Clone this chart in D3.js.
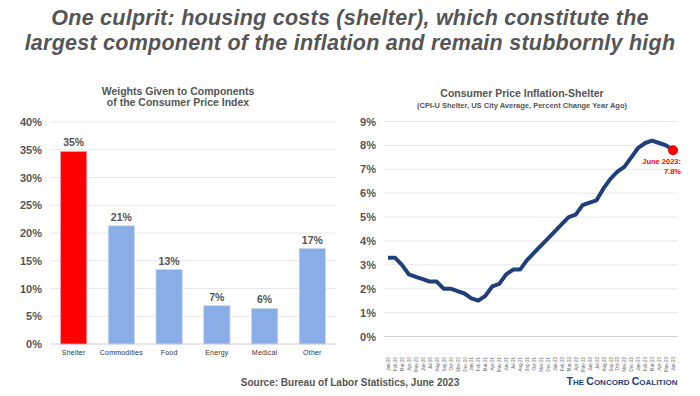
<!DOCTYPE html>
<html>
<head>
<meta charset="utf-8">
<script src="https://cdn.jsdelivr.net/npm/d3@7"></script>
<style>
  body { margin: 0; background: #fff; }
  text { font-family: "Liberation Sans", Arial, sans-serif; }
</style>
</head>
<body>
<div id="viz"></div>
<script>
// left chart: CPI weights
var categories = ['Shelter', 'Commodities', 'Food', 'Energy', 'Medical', 'Other'];
var weights = [34.7, 21.3, 13.4, 6.9, 6.4, 17.2];
var weightLabels = ['35%', '21%', '13%', '7%', '6%', '17%'];
var weightTicks = [0, 5, 10, 15, 20, 25, 30, 35, 40];

// right chart: shelter CPI, % change year ago, Jan-20 .. Jun-23
var months = ['Jan-20','Feb-20','Mar-20','Apr-20','May-20','Jun-20','Jul-20','Aug-20','Sep-20','Oct-20','Nov-20','Dec-20',
  'Jan-21','Feb-21','Mar-21','Apr-21','May-21','Jun-21','Jul-21','Aug-21','Sep-21','Oct-21','Nov-21','Dec-21',
  'Jan-22','Feb-22','Mar-22','Apr-22','May-22','Jun-22','Jul-22','Aug-22','Sep-22','Oct-22','Nov-22','Dec-22',
  'Jan-23','Feb-23','Mar-23','Apr-23','May-23','Jun-23'];
var shelter = [3.3, 3.3, 3.0, 2.6, 2.5, 2.4, 2.3, 2.3, 2.0, 2.0, 1.9, 1.8,
  1.6, 1.5, 1.7, 2.1, 2.2, 2.6, 2.8, 2.8, 3.2, 3.5, 3.8, 4.1,
  4.4, 4.7, 5.0, 5.1, 5.5, 5.6, 5.7, 6.2, 6.6, 6.9, 7.1, 7.5,
  7.9, 8.1, 8.2, 8.1, 8.0, 7.8];
var shelterTicks = [0, 1, 2, 3, 4, 5, 6, 7, 8, 9];

var width = 700,
    height = 396;

var svg = d3.select('#viz').append('svg')
  .attr('width', width)
  .attr('height', height)

// main title
svg.append('text')
  .attr('x', 350).attr('y', 25)
  .attr('text-anchor', 'middle')
  .attr('font-size', 21.5).attr('font-weight', 'bold').attr('font-style', 'italic')
  .attr('letter-spacing', 0.25)
  .attr('fill', '#555')
  .text('One culprit: housing costs (shelter), which constitute the')
svg.append('text')
  .attr('x', 350).attr('y', 50)
  .attr('text-anchor', 'middle')
  .attr('font-size', 21.5).attr('font-weight', 'bold').attr('font-style', 'italic')
  .attr('letter-spacing', 0.25)
  .attr('fill', '#555')
  .text('largest component of the inflation and remain stubbornly high')

// ---------- left: bar chart ----------
var x = d3.scaleBand()
  .domain(categories)
  .range([50, 336])
  .paddingInner(0.45)
  .paddingOuter(0.22)

var y = d3.scaleLinear()
  .domain([0, 40])
  .range([344, 122])

var gL = svg.append('g')

gL.selectAll('.grid')
  .data(weightTicks)
  .enter().append('line')
  .attr('x1', 50).attr('x2', 336)
  .attr('y1', function(d){ return y(d) }).attr('y2', function(d){ return y(d) })
  .attr('stroke', function(d){ return d == 0 ? '#d0d0d0' : '#e8e8e8' })
  .attr('stroke-width', 1)

var yAxisL = d3.axisLeft(y).tickValues(weightTicks).tickSize(0).tickPadding(0)
  .tickFormat(function(d){ return d + '%' })
gL.append('g')
  .attr('transform', 'translate(42,0)')
  .call(yAxisL)
  .call(function(g){ g.select('.domain').remove() })
  .selectAll('text')
  .attr('font-size', 11).attr('font-weight', 'bold').attr('fill', '#555')
  .attr('font-family', '"Liberation Sans", Arial, sans-serif')

gL.selectAll('.bar')
  .data(weights)
  .enter().append('rect')
  .attr('x', function(d, i){ return x(categories[i]) })
  .attr('y', function(d){ return y(d) })
  .attr('width', x.bandwidth())
  .attr('height', function(d){ return y(0) - y(d) })
  .attr('fill', function(d, i){ return i == 0 ? '#ff0000' : '#89ade6' })
  .attr('stroke', function(d, i){ return i == 0 ? '#f4a0b0' : '#c7d6f3' })
  .attr('stroke-width', 0.8)

gL.selectAll('.barLabel')
  .data(weights)
  .enter().append('text')
  .attr('x', function(d, i){ return x(categories[i]) + x.bandwidth()/2 })
  .attr('y', function(d){ return y(d) - 5 })
  .attr('text-anchor', 'middle')
  .attr('font-size', 10.5).attr('font-weight', 'bold').attr('fill', '#555')
  .text(function(d, i){ return weightLabels[i] })

var xAxisL = d3.axisBottom(x).tickSize(0).tickPadding(0)
gL.append('g')
  .attr('transform', 'translate(0,350)')
  .call(xAxisL)
  .call(function(g){ g.select('.domain').remove() })
  .selectAll('text')
  .attr('font-size', 7).attr('fill', '#333')
  .attr('letter-spacing', 0.2)
  .attr('font-family', '"Liberation Sans", Arial, sans-serif')

gL.append('text')
  .attr('x', 178).attr('y', 95)
  .attr('text-anchor', 'middle')
  .attr('font-size', 10.5).attr('font-weight', 'bold').attr('fill', '#555')
  .text('Weights Given to Components')
gL.append('text')
  .attr('x', 178).attr('y', 106)
  .attr('text-anchor', 'middle')
  .attr('font-size', 10.5).attr('font-weight', 'bold').attr('fill', '#555')
  .text('of the Consumer Price Index')

// ---------- right: line chart ----------
var x2 = d3.scalePoint()
  .domain(months)
  .range([388, 673])

var y2 = d3.scaleLinear()
  .domain([0, 9])
  .range([336.5, 121.5])

var gR = svg.append('g')

gR.selectAll('.grid')
  .data(shelterTicks)
  .enter().append('line')
  .attr('x1', 384).attr('x2', 678)
  .attr('y1', function(d){ return y2(d) }).attr('y2', function(d){ return y2(d) })
  .attr('stroke', function(d){ return d == 0 ? '#d0d0d0' : '#e8e8e8' })
  .attr('stroke-width', 1)

var yAxisR = d3.axisLeft(y2).tickValues(shelterTicks).tickSize(0).tickPadding(0)
  .tickFormat(function(d){ return d + '%' })
gR.append('g')
  .attr('transform', 'translate(376,0)')
  .call(yAxisR)
  .call(function(g){ g.select('.domain').remove() })
  .selectAll('text')
  .attr('font-size', 11).attr('font-weight', 'bold').attr('fill', '#555')
  .attr('font-family', '"Liberation Sans", Arial, sans-serif')

var xAxisR = d3.axisBottom(x2).tickSize(0).tickPadding(0)
gR.append('g')
  .attr('transform', 'translate(0,340)')
  .call(xAxisR)
  .call(function(g){ g.select('.domain').remove() })
  .selectAll('text')
  .attr('font-size', 4.5).attr('fill', '#666')
  .attr('font-family', '"Liberation Sans", Arial, sans-serif')
  .attr('text-anchor', 'end')
  .attr('dy', '0.35em')
  .attr('transform', 'rotate(-90) translate(-17,0)')

var line = d3.line()
  .x(function(d, i){ return x2(months[i]) })
  .y(function(d){ return y2(d) })

gR.append('path')
  .datum(shelter)
  .attr('d', line)
  .attr('fill', 'none')
  .attr('stroke', '#1f3f7c')
  .attr('stroke-width', 4)
  .attr('stroke-linejoin', 'round')

var last = shelter.length - 1;
gR.append('circle')
  .attr('cx', x2(months[last]))
  .attr('cy', y2(shelter[last]))
  .attr('r', 5)
  .attr('fill', '#ff0000')

gR.append('text')
  .attr('x', 681).attr('y', 164)
  .attr('text-anchor', 'end')
  .attr('font-size', 7.5).attr('font-weight', 'bold').attr('fill', '#ff0000')
  .text('June 2023:')
gR.append('text')
  .attr('x', 681).attr('y', 174)
  .attr('text-anchor', 'end')
  .attr('font-size', 7.5).attr('font-weight', 'bold').attr('fill', '#ff0000')
  .text('7.8%')

gR.append('text')
  .attr('x', 522).attr('y', 97)
  .attr('text-anchor', 'middle')
  .attr('font-size', 10.5).attr('font-weight', 'bold').attr('fill', '#555')
  .text('Consumer Price Inflation-Shelter')
gR.append('text')
  .attr('x', 522).attr('y', 107.5)
  .attr('text-anchor', 'middle')
  .attr('font-size', 7.5).attr('font-weight', 'bold').attr('fill', '#555')
  .text('(CPI-U Shelter, US City Average, Percent Change Year Ago)')

// footer
svg.append('text')
  .attr('x', 350).attr('y', 386)
  .attr('text-anchor', 'middle')
  .attr('font-size', 10).attr('font-weight', 'bold').attr('fill', '#555')
  .text('Source: Bureau of Labor Statistics, June 2023')

var brand = svg.append('text')
  .attr('x', 622).attr('y', 385)
  .attr('text-anchor', 'middle')
  .attr('font-family', '"Liberation Serif", "DejaVu Serif", serif')
  .attr('font-weight', 'bold')
  .attr('fill', '#1c3f7e')
brand.append('tspan').attr('font-size', 10.5).text('T')
brand.append('tspan').attr('font-size', 8).text('HE ')
brand.append('tspan').attr('font-size', 10.5).text('C')
brand.append('tspan').attr('font-size', 8).text('ONCORD ')
brand.append('tspan').attr('font-size', 10.5).text('C')
brand.append('tspan').attr('font-size', 8).text('OALITION')
</script>
</body>
</html>
